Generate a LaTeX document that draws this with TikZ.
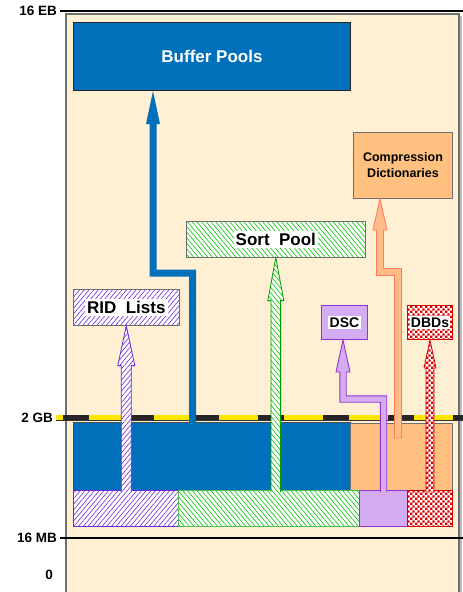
\documentclass[tikz,border=0pt]{standalone}
\usepackage{fontspec}
\setmainfont{Liberation Sans}
\definecolor{panelbeige}{RGB}{255,240,212}
\definecolor{panelgray}{RGB}{110,110,110}
\definecolor{poolblue}{RGB}{0,112,186}
\definecolor{dictorange}{RGB}{255,192,128}
\definecolor{arroworange}{RGB}{255,188,135}
\definecolor{salmon}{RGB}{255,125,95}
\definecolor{ridpurple}{RGB}{110,40,220}
\definecolor{dscpurple}{RGB}{150,50,210}
\definecolor{dsclav}{RGB}{212,172,242}
\definecolor{sortgreen}{RGB}{0,195,0}
\definecolor{sortedge}{RGB}{80,190,80}
\definecolor{dbdred}{RGB}{215,0,0}
\definecolor{hazard}{RGB}{255,230,0}
\usepackage{tikz}
\usetikzlibrary{arrows.meta, positioning, calc, patterns.meta}

\setlength{\fboxsep}{2pt}
\newcommand{\bigtxt}{\bfseries\fontsize{17}{20}\selectfont}

\tikzdeclarepattern{
  name=finechecks, type=uncolored,
  bounding box={(0,0) and (5.2pt,5.2pt)},
  tile size={(5.2pt,5.2pt)},
  code={\fill (0,0) rectangle (2.6pt,2.6pt); \fill (2.6pt,2.6pt) rectangle (5.2pt,5.2pt);}
}

\tikzset{
  area/.style={anchor=north west, inner sep=0pt, line width=1pt},
  lvl/.style={anchor=east, inner sep=3pt, font=\bfseries\fontsize{13.5}{16}\selectfont},
  ridhatch/.style={preaction={fill=white}, pattern={Lines[angle=50,distance=3.6pt,line width=0.6pt]}, pattern color=ridpurple},
  sorthatch/.style={preaction={fill=white}, pattern={Lines[angle=-50,distance=3.6pt,line width=0.6pt]}, pattern color=sortgreen},
  dbdcheck/.style={preaction={fill=white}, pattern=finechecks, pattern color=dbdred},
  ridcol/.style={draw=ridpurple, line width=0.8pt, ridhatch},
  sortcol/.style={draw=sortgreen!80!black, line width=0.8pt, sorthatch},
  dbdcol/.style={draw=dbdred, line width=0.8pt, dbdcheck},
  poolcol/.style={fill=poolblue},
  cmpcol/.style={draw=salmon, line width=0.9pt, fill=arroworange},
  dsccol/.style={draw=dscpurple, line width=0.9pt, fill=dsclav}
}

% upright column with arrow head: style, foot, tip, half shaft, half head, head length
\newcommand{\hatcharrow}[6]{%
  \path[#1] let \p1=(#2), \p2=(#3) in
    (\x2-#4pt,\y1) -- (\x2-#4pt,\y2-#6pt) -- (\x2-#5pt,\y2-#6pt) -- (\x2,\y2)
    -- (\x2+#5pt,\y2-#6pt) -- (\x2+#4pt,\y2-#6pt) -- (\x2+#4pt,\y1);
}
% column that steps left once: style, foot, bend, tip, half shaft, half head, head length, end
\newcommand{\steparrow}[8]{%
  \path[#1] let \p1=(#2), \p2=(#3), \p3=(#4) in
    (\x1-#5pt,\y1) -- (\x1-#5pt,\y2-#5pt) -- (\x3-#5pt,\y2-#5pt) -- (\x3-#5pt,\y3-#7pt)
    -- (\x3-#6pt,\y3-#7pt) -- (\x3,\y3) -- (\x3+#6pt,\y3-#7pt) -- (\x3+#5pt,\y3-#7pt)
    -- (\x3+#5pt,\y2+#5pt) -- (\x1+#5pt,\y2+#5pt) -- (\x1+#5pt,\y1) #8;
}

\begin{document}
\begin{tikzpicture}[x=1pt, y=-1pt]
  \useasboundingbox (0,0) rectangle (463,592);

  % address space panel
  \draw[panelgray, line width=1.5pt, fill=panelbeige] (66,14) rectangle (459,600);
  \draw[gray!50, line width=2pt] (461,16) -- (461,592);
  \coordinate (rightedge) at (463,0);

  % address levels
  \node[lvl] (eb) at (60,11) {16 EB};
  \node[lvl] (gb) at (56,417.5) {2 GB};
  \node[lvl] (mb) at (60,538) {16 MB};
  \node[lvl] (zero) at (56,574.5) {0};
  \draw[line width=2pt] (eb.east) -- (eb.east -| rightedge);
  \draw[line width=1.5pt] (mb.east) -- (mb.east -| rightedge);
  \draw[hazard, line width=5pt] (gb.east) -- (gb.east -| rightedge);
  \draw[black!85, line width=5pt, dash pattern=on 26pt off 39pt, dash phase=58pt] (gb.east) -- (gb.east -| rightedge);
  \draw[black!80, line width=0.8pt] ($(gb.east)+(0,2.8)$) -- ($(gb.east -| rightedge)+(0,2.8)$);

  % storage above the bar
  \node[area, draw=gray!30!black, fill=poolblue, minimum width=277, minimum height=68,
        text=white, font=\bigtxt] (bufpool) at (73,22) {Buffer Pools};
  \node[area, draw=panelgray, fill=dictorange, minimum width=99, minimum height=66, align=center,
        font=\bfseries\fontsize{12.5}{16}\selectfont] (compdict) at (353,132) {Compression\\Dictionaries};
  \node[area, draw=panelgray, sorthatch, minimum width=179, minimum height=36,
        font=\bigtxt] (sortpool) at (186,221) {\colorbox{white}{Sort\ \ Pool}};
  \node[area, draw=panelgray, ridhatch, minimum width=106, minimum height=36,
        font=\bigtxt] (ridlist) at (73,289) {\colorbox{white}{RID\ \ Lists}};
  \node[area, draw=dscpurple, fill=dsclav, minimum width=46, minimum height=34,
        font=\bfseries\fontsize{14}{16}\selectfont] (dscbox) at (321,305) {\colorbox{white}{DSC}};
  \node[area, draw=dbdred, dbdcheck, minimum width=45, minimum height=34,
        font=\bfseries\fontsize{14}{16}\selectfont] (dbds) at (407,305) {\colorbox{white}{\kern-1.5pt DBDs\kern-1.5pt}};

  % storage below the bar
  \node[area, draw=gray!60!black, fill=poolblue, minimum width=277, minimum height=68] (bluelow) at (73,422) {};
  \node[area, draw=panelgray, fill=dictorange, minimum width=102, minimum height=67] (orangelow) at (350,423) {};
  \node[area, draw=ridpurple, ridhatch, minimum width=105, minimum height=36] (ridlow) at (73,490) {};
  \node[area, draw=sortedge, sorthatch, minimum width=181, minimum height=36] (sortlow) at (178,490) {};
  \node[area, draw=dscpurple, fill=dsclav, minimum width=48, minimum height=36] (dsclow) at (359,490) {};
  \node[area, draw=dbdred, dbdcheck, minimum width=45, minimum height=36] (dbdlow) at (407,490) {};

  % moves above the bar
  \coordinate (bufup) at (192.5,273);
  \coordinate (bufleft) at (153,273);
  \steparrow{poolcol}{bufup |- bluelow.center}{bufup}{bufpool.south -| bufleft}{3.5}{7}{33}{}

  \coordinate (cmpfoot) at (398,438);
  \coordinate (cmpleft) at (380,272);
  \steparrow{cmpcol}{cmpfoot}{cmpleft}{compdict.south -| cmpleft}{3.5}{7}{31}{-- cycle}

  \coordinate (dscleft) at (343,399);
  \steparrow{dsccol}{$(dsclow.north)+(0,2)$}{dscleft}{dscbox.south -| dscleft}{3.2}{7}{32}{}

  \hatcharrow{ridcol}{$(ridlow.north)+(0,2)$}{ridlist.south}{5}{8.5}{40}
  \hatcharrow{sortcol}{$(sortlow.north)+(0,2)$}{sortpool.south}{4.8}{8}{43}
  \hatcharrow{dbdcol}{$(dbdlow.north)+(0,2)$}{dbds.south}{4}{6}{28}
\end{tikzpicture}
\end{document}
